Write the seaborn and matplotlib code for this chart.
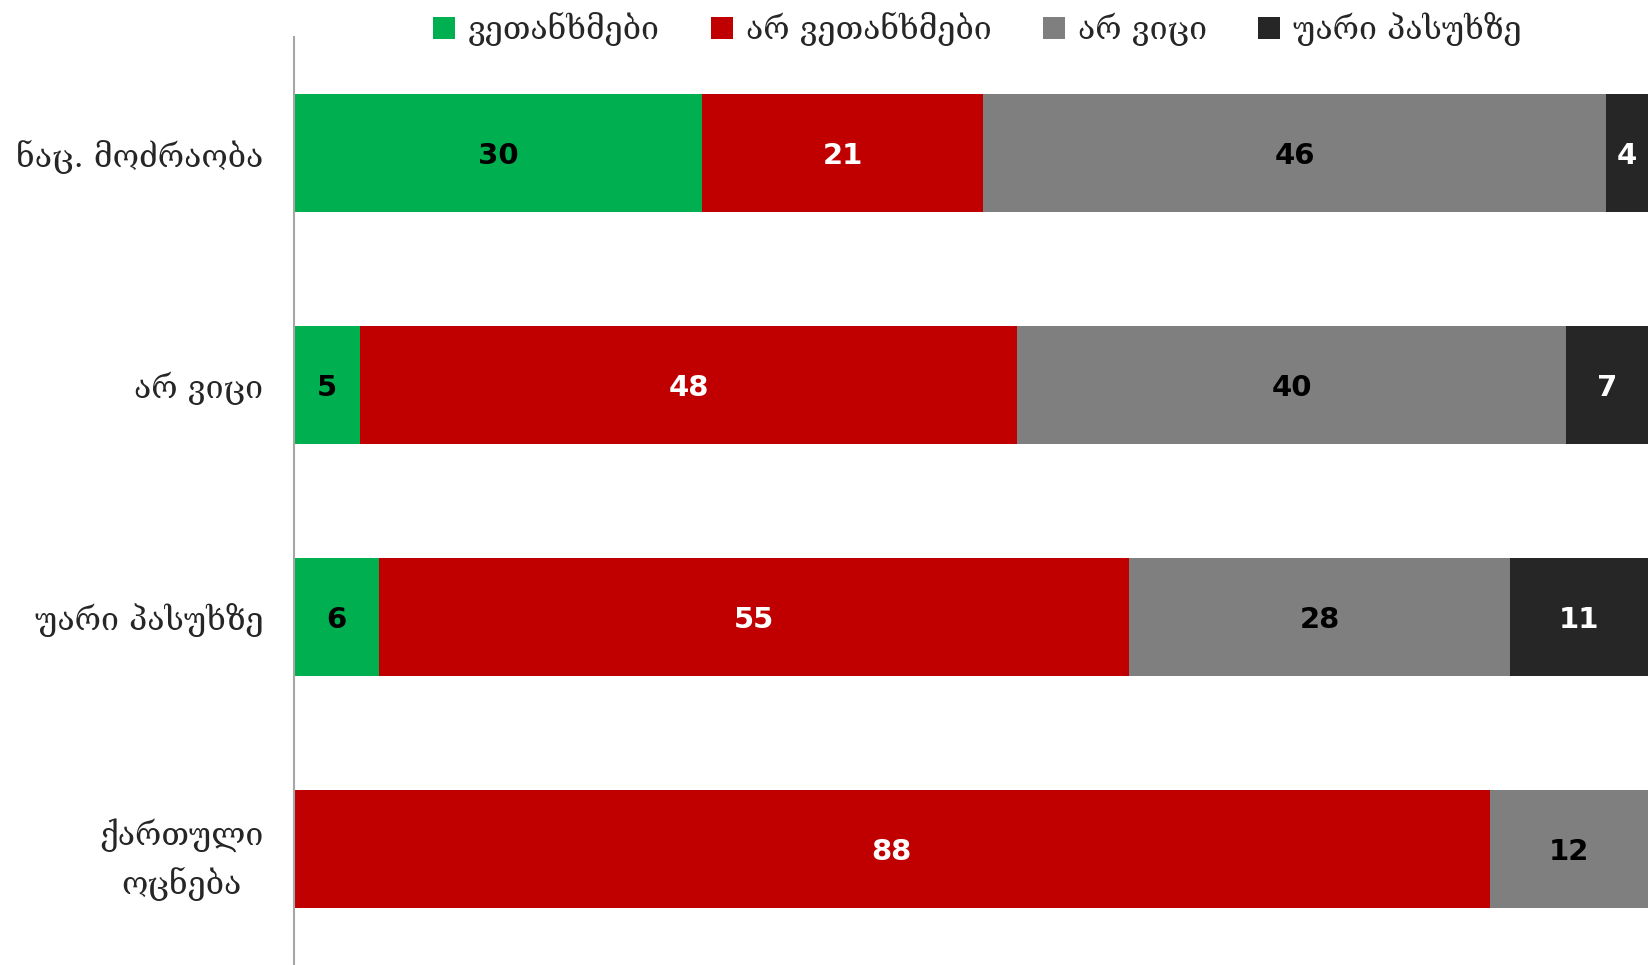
import numpy as np
import matplotlib
matplotlib.use('Agg')
import matplotlib.pyplot as plt
import seaborn as sns
from matplotlib.patches import Patch

# Data (segment widths, labels are the rounded values)
parties = ['ნაც. მოძრაობა', 'არ ვიცი', 'უარი პასუხზე', 'ქართული\nოცნება']
series_names = ['ვეთანხმები', 'არ ვეთანხმები', 'არ ვიცი', 'უარი პასუხზე']
agree = [29.9, 4.8, 6.2, 0]
disagree = [20.6, 48.2, 55.0, 87.6]
dont_know = [45.6, 40.2, 27.9, 12.4]
refuse = [4.0, 6.8, 10.9, 0]

colors = ['#00B050', '#C00000', '#7F7F7F', '#262626']
label_colors = ['black', 'white', 'black', 'white']

sns.set_theme(style='white')
plt.rcParams['font.family'] = ['DejaVu Serif']

fig = plt.figure(figsize=(16.48, 9.65), dpi=100)
ax = fig.add_axes([294 / 1648, 0, 1 - 294 / 1648, (965 - 37) / 965])

series = [agree, disagree, dont_know, refuse]
cum = np.cumsum(np.array(series, dtype=float), axis=0)
x_max = 99.2

# stacked bars: draw cumulative totals back to front
for i in range(len(series) - 1, -1, -1):
    sns.barplot(x=cum[i], y=parties, color=colors[i], saturation=1,
                width=0.51, orient='h', ax=ax, order=parties, linewidth=0)

# value labels, centred on the visible part of each segment
for i, vals in enumerate(series):
    for j, v in enumerate(vals):
        if v == 0:
            continue
        left = cum[i][j] - v
        right = min(cum[i][j], x_max)
        ax.text((left + right) / 2, j, '%.0f' % v, ha='center', va='center_baseline',
                fontsize=21, fontweight='bold', color=label_colors[i],
                family='DejaVu Sans')

ax.set_xlim(0, x_max)
ax.set_ylim(3.5, -0.5)
ax.set_xlabel('')
ax.set_ylabel('')
ax.set_xticks([])
ax.tick_params(axis='y', length=0, pad=22, labelsize=23)
for lbl in ax.get_yticklabels():
    lbl.set_multialignment('center')
    lbl.set_linespacing(1.55)

for s in ['top', 'right', 'bottom']:
    ax.spines[s].set_visible(False)
ax.spines['left'].set_color('#A6A6A6')
ax.spines['left'].set_linewidth(1.5)

handles = [Patch(facecolor=c, edgecolor='none') for c in colors]
fig.legend(handles, series_names, loc='center', bbox_to_anchor=(0.593, 1 - 29 / 965),
           ncol=4, frameon=False, fontsize=23, handlelength=0.7, handleheight=0.7,
           handletextpad=0.4, columnspacing=1.6)

fig.savefig('out.png', dpi=100)
